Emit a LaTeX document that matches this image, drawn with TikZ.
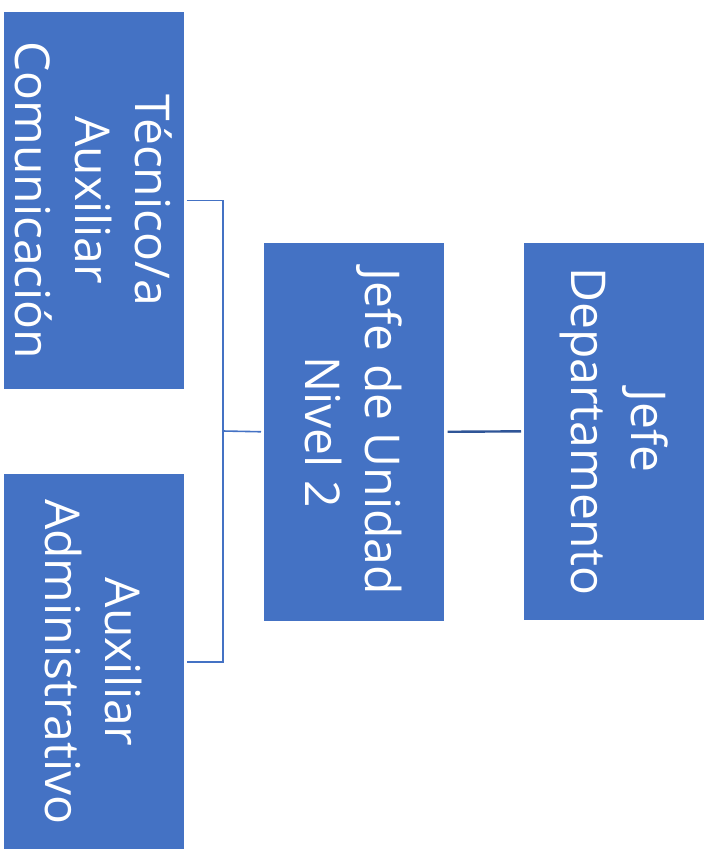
\documentclass[tikz,border=0pt]{standalone}
\usepackage{fontspec}
\setmainfont{Open Sans}
\definecolor{boxblue}{HTML}{4472C4}
\definecolor{linkblue}{HTML}{4472C4}
\definecolor{darkline}{HTML}{2F5597}
\begin{document}
\begin{tikzpicture}[x=1pt,y=-1pt,
  box/.style={rectangle, fill=boxblue, draw=white, line width=0.6pt, inner sep=0pt, anchor=north west, minimum width=181pt},
  lbl/.style={text=white, rotate=-90, align=center, font=\fontsize{48}{60}\selectfont, inner sep=0pt},
  conn/.style={draw=linkblue, line width=1.6pt},
  mainconn/.style={draw=darkline, line width=2.4pt}]
\useasboundingbox (0,0) rectangle (706,849);
\node[box, minimum height=378pt] (tec) at (3,11) {};
\node[box, minimum height=377pt] (aux) at (3,473) {};
\node[box, minimum height=379pt] (ju) at (263,242) {};
\node[box, minimum height=378pt] (jd) at (523,242) {};
\coordinate (bus) at (223,431);
\node[lbl] (tect) at (tec.center) {Técnico/a\\Auxiliar\\Comunicación};
\node[lbl] (auxt) at (aux.center) {Auxiliar\\Administrativo};
\node[lbl] (jut) at (ju.center) {Jefe de Unidad\\Nivel 2};
\node[lbl] (jdt) at (jd.center) {Jefe\\Departamento};
\draw[mainconn, shorten <=2pt, shorten >=3pt] (jd.west) -- (ju.east);
\draw[conn, shorten >=2pt] (bus) -- (ju.west);
\draw[conn, shorten <=2pt, shorten >=2pt] (tec.east) -| (bus) |- (aux.east);
\end{tikzpicture}
\end{document}
